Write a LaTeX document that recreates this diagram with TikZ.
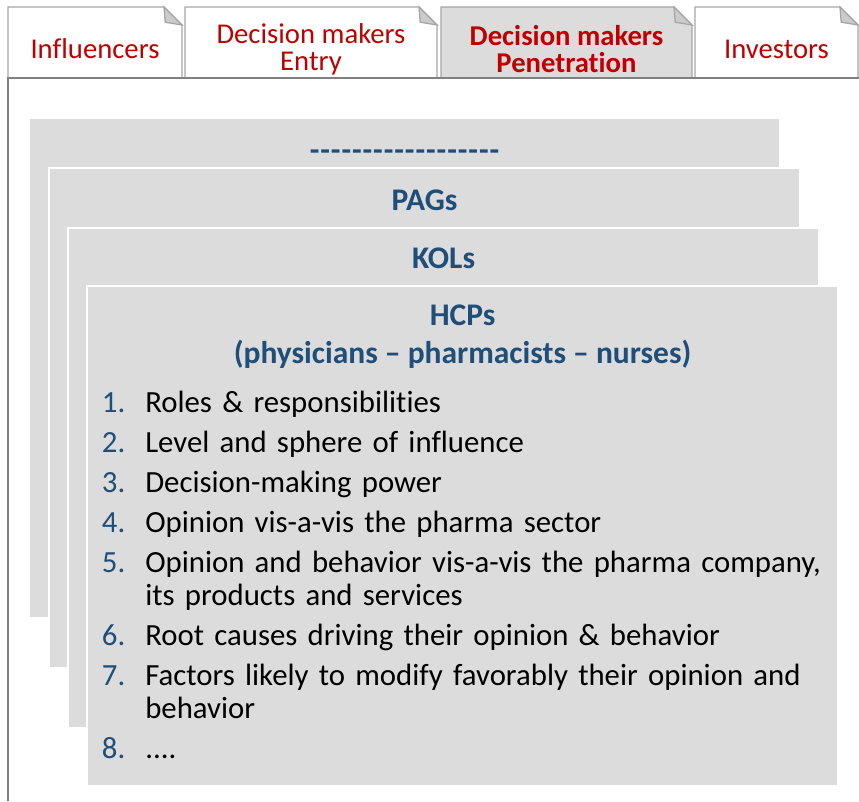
\documentclass[tikz,border=0pt]{standalone}
\usepackage{fontspec}
\setmainfont{Carlito}[Ligatures={TeX,NoCommon}]
\usepackage{enumitem}
\usepackage{tikz}

\definecolor{cardgray}{HTML}{DCDCDC}
\definecolor{foldgray}{HTML}{CBCBCB}
\definecolor{tabgray}{HTML}{A6A6A6}
\definecolor{framegray}{HTML}{808080}
\definecolor{hcpblue}{HTML}{1F4E79}
\definecolor{tabred}{HTML}{C00000}

\begin{document}
\begin{tikzpicture}[
  font=\fontsize{21.9}{23.5}\selectfont,
  card/.style={fill=cardgray, draw=white, line width=1.5pt, inner sep=0pt,
    minimum width=18.775cm, minimum height=12.5cm, anchor=north west},
  cardtitle/.style={text=hcpblue, font=\fontsize{22.4}{27}\selectfont\bfseries,
    align=center, inner sep=0pt},
  tabshape/.style={draw=tabgray, line width=0.9pt},
  tablabel/.style={text=tabred, font=\fontsize{20.4}{19.2}\selectfont,
    align=center, inner sep=0pt}]
  \useasboundingbox (0,0) rectangle (21.475,20.025);
  \foreach \xa/\xb/\tabfill/\tabtext [count=\i] in {
      0.2/4.55/white/{Influencers},
      4.625/10.925/white/{Decision makers\\Entry},
      11.025/17.3/cardgray/{\textbf{Decision makers}\\\textbf{Penetration}},
      17.375/21.45/white/{Investors}} {
    \filldraw[tabshape, fill=\tabfill] (\xa,18.1) -- (\xa,19.85) -- (\xb-0.45,19.85)
      -- (\xb,19.4) -- (\xb,18.1);
    \filldraw[tabshape, fill=foldgray] (\xb-0.45,19.85) -- (\xb,19.4) -- (\xb-0.42,19.47) -- cycle;
    \node[tablabel] (tab\i) at ({(\xa+\xb)/2},18.8) {\tabtext};
  }
  \draw[framegray, line width=1.4pt] (0.2,0) -- (0.2,18.075) -- (21.475,18.075);

  \node[card] (dashes) at (0.7,17.1) {};
  \node[card] (pags) at (1.2,15.85) {};
  \node[card] (kols) at (1.675,14.35) {};
  \node[card] (hcps) at (2.15,12.9) {};

  \node[cardtitle] (dashesTitle) at ([yshift=-0.95cm]dashes.north)
    {\addfontfeatures{LetterSpace=3}-{}-{}-{}-{}-{}-{}-{}-{}-{}-{}-{}-{}-{}-{}-{}-{}-{}-};
  \node[cardtitle] (pagsTitle) at ([yshift=-0.825cm]pags.north) {PAGs};
  \node[cardtitle] (kolsTitle) at ([yshift=-0.775cm]kols.north) {KOLs};
  \node[cardtitle] (hcpsTitle) at ([yshift=-1.3cm]hcps.north)
    {HCPs\\(physicians – pharmacists – nurses)};

  \node[anchor=north west, text width=18.5cm, inner sep=0pt] (hcpList) at (2.575,10.55) {\raggedright
    \begin{enumerate}[label=\textcolor{hcpblue}{\arabic*.}, leftmargin=1.05cm, labelsep=0.5cm,
        itemsep=4.95pt, parsep=0pt, topsep=0pt, partopsep=0pt]
      \item Roles \& responsibilities
      \item Level and sphere of influence
      \item Decision-making power
      \item Opinion vis-a-vis the pharma sector
      \item Opinion and behavior vis-a-vis the pharma company,\\its products and services
      \item Root causes driving their opinion \& behavior
      \item Factors likely to modify favorably their opinion and\\behavior
      \item ....
    \end{enumerate}};
\end{tikzpicture}
\end{document}
